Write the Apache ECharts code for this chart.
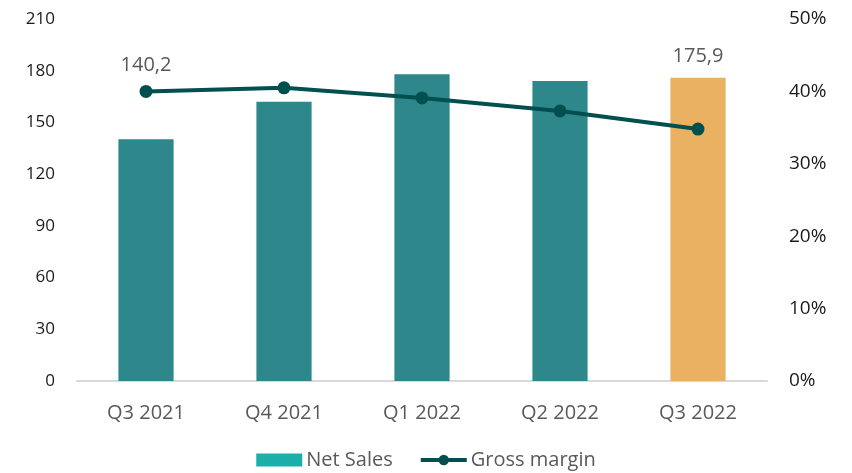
<!DOCTYPE html>
<html>
<head>
<meta charset="utf-8">
<script src="https://cdn.jsdelivr.net/npm/echarts@6/dist/echarts.min.js"></script>
<style>
  html, body { margin: 0; padding: 0; background: #fff; }
  #chart { width: 852px; height: 473px; }
</style>
</head>
<body>
<div id="chart"></div>
<script>
var categories = ['Q3 2021', 'Q4 2021', 'Q1 2022', 'Q2 2022', 'Q3 2022'];
var netSales = [140.2, 162, 178, 174, 175.9];
var grossMargin = [40.0, 40.5, 39.1, 37.3, 34.8];
var shownLabels = [0, 4];

var chart = echarts.init(document.getElementById('chart'));

var barData = netSales.map(function (v, i) {
    var item = {
        value: v,
        itemStyle: { color: i === 4 ? '#ebb162' : '#2e878b' }
    };
    if (shownLabels.indexOf(i) >= 0) {
        item.label = {
            show: true,
            position: 'top',
            offset: i === 0 ? [0, -59] : [0, -6],
            formatter: function (p) { return p.value.toFixed(1).replace('.', ','); }
        };
    }
    return item;
});

var option = {
    textStyle: { fontFamily: 'Open Sans' },
    grid: { left: 77, right: 85, top: 19, bottom: 92 },
    legend: {
        top: 445,
        left: 'center',
        itemWidth: 46,
        itemHeight: 13,
        itemGap: 26,
        textStyle: { fontSize: 20, color: '#595959', padding: [0, 0, 0, -1] },
        data: [
            { name: 'Net Sales', icon: 'rect' },
            { name: 'Gross margin', lineStyle: { width: 4 } }
        ]
    },
    xAxis: {
        type: 'category',
        data: categories,
        axisLine: { lineStyle: { color: '#d9d9d9', width: 2 } },
        axisTick: { show: false },
        axisLabel: { fontSize: 20, color: '#595959', margin: 22 }
    },
    yAxis: [{
        type: 'value',
        min: 0, max: 210, interval: 30,
        splitLine: { show: false },
        axisLine: { show: false },
        axisLabel: { fontSize: 17, color: '#1a1a1a', margin: 22 }
    }, {
        type: 'value',
        min: 0, max: 50, interval: 10,
        splitLine: { show: false },
        axisLine: { show: false },
        axisLabel: { fontSize: 19, color: '#1a1a1a', margin: 22, formatter: '{value}%' }
    }],
    series: [{
        name: 'Net Sales',
        type: 'bar',
        barWidth: '40%',
        itemStyle: { color: '#1aafa8' },
        label: { fontSize: 20, color: '#595959' },
        data: barData
    }, {
        name: 'Gross margin',
        type: 'line',
        yAxisIndex: 1,
        symbol: 'circle',
        symbolSize: 13,
        lineStyle: { color: '#01504f', width: 4 },
        itemStyle: { color: '#01504f' },
        data: grossMargin
    }]
};

chart.setOption(option);
</script>
</body>
</html>
